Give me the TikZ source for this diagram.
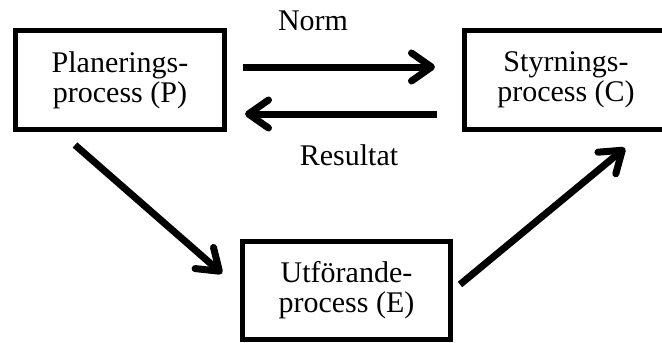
\documentclass[tikz,border=0pt]{standalone}
\usepackage{fontspec}
\setmainfont{Liberation Serif}
\usetikzlibrary{arrows.meta}
\begin{document}
\begin{tikzpicture}[x=1pt,y=-1pt,
  procbox/.style={draw, line width=5pt, minimum width=209pt, minimum height=99pt,
    align=center, inner sep=0pt, font=\fontsize{30}{30}\selectfont},
  lbl/.style={font=\fontsize{30}{30}\selectfont, inner sep=0pt, align=center},
  arr/.style={line width=7pt, -{Straight Barb[length=20pt, width=28pt, round]}}]
\useasboundingbox (0,0) rectangle (662,343);
\node[procbox] (P) at (120,80) {Planerings-\\process (P)};
\node[procbox, minimum width=243pt] (C) at (586,80) {};
\node[lbl] (Ct) at (566,80) {Styrnings-\\process (C)};
\node[procbox, minimum width=208pt, minimum height=98pt] (E) at (346.5,290.5) {Utförande-\\process (E)};
\node[lbl, anchor=base] (norm) at (313,30) {Norm};
\node[lbl, anchor=base] (res) at (349,165) {Resultat};
\draw[arr] ([xshift=16pt,yshift=13pt]P.east) -- ([xshift=-27pt,yshift=13pt]C.west);
\draw[arr] ([xshift=-25pt,yshift=-34pt]C.west) -- ([xshift=18pt,yshift=-34pt]P.east);
\draw[arr] ([xshift=-45pt,yshift=-13pt]P.south) -- ([xshift=-18pt,yshift=17pt]E.west);
\draw[arr] ([xshift=7pt,yshift=6pt]E.east) -- ([xshift=39pt,yshift=-16pt]C.south);
\end{tikzpicture}
\end{document}
